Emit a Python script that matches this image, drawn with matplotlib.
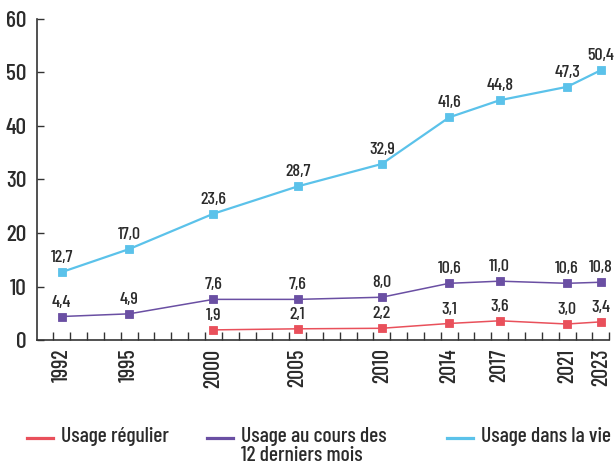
import numpy as np
import matplotlib
matplotlib.use("Agg")
import matplotlib.pyplot as plt
from matplotlib.lines import Line2D

plt.rcParams['font.family'] = ['Barlow Condensed', 'DejaVu Sans']
plt.rcParams['font.weight'] = 'medium'

years = [1992, 1995, 2000, 2005, 2010, 2014, 2017, 2021, 2023]
vie = [12.7, 17.0, 23.6, 28.7, 32.9, 41.6, 44.8, 47.3, 50.4]
annee = [4.4, 4.9, 7.6, 7.6, 8.0, 10.6, 11.0, 10.6, 10.8]
regulier_years = [2000, 2005, 2010, 2014, 2017, 2021, 2023]
regulier = [1.9, 2.1, 2.2, 3.1, 3.6, 3.0, 3.4]

labels = ["Usage régulier", "Usage au cours des\n12 derniers mois", "Usage dans la vie"]
colors = ["#e9505b", "#6a4fa3", "#5bc2ea"]
text_col = "#2b2b2b"


def xpos(ys):
    # the source chart draws 1992 one year to the left of its true place
    return [y - 1 if y == 1992 else y for y in ys]


fig = plt.figure(figsize=(6.16, 4.71), dpi=100)
ax = fig.add_axes([0.0593, 0.278, 0.9297, 0.682])

series = [(regulier_years, regulier, colors[0], 1.1),
          (years, annee, colors[1], 1.1),
          (years, vie, colors[2], 1.6)]
for ys, vals, c, lw in series:
    xs = xpos(ys)
    ax.plot(xs, vals, color=c, lw=lw, marker='s', ms=6, mec=c, mew=0.6, zorder=3)
    for x, v in zip(xs, vals):
        ax.annotate(f"{v:.1f}".replace('.', ','), (x, v), xytext=(0, 5),
                    textcoords='offset points', ha='center', va='bottom',
                    fontsize=13, color=text_col, annotation_clip=False)

ax.set_xlim(1989.5, 2023.5)
ax.set_ylim(0, 60)
ax.set_yticks(range(0, 61, 10))
ax.set_xticks(xpos(years))
ax.set_xticklabels([str(y) for y in years], rotation=90, va='top')
ax.set_xticks(np.arange(1990.5, 2023.6, 1.0), minor=True)
ax.tick_params(axis='x', which='major', length=0, labelsize=16,
               labelcolor=text_col, pad=6)
ax.tick_params(axis='x', which='minor', direction='in', length=6, width=1,
               color='#333333')
ax.tick_params(axis='y', direction='in', length=5, width=1, color='#333333',
               labelsize=17, labelcolor=text_col, pad=7)
for s in ['top', 'right']:
    ax.spines[s].set_visible(False)
for s in ['left', 'bottom']:
    ax.spines[s].set_color('#333333')
    ax.spines[s].set_linewidth(1.2)

# legend drawn by hand to keep the wrapped label top-aligned
leg_x = [27, 207, 447]
leg_y = 1 - 438 / 471
for x0, lab, c in zip(leg_x, labels, colors):
    fig.add_artist(Line2D([x0 / 616, (x0 + 26) / 616], [leg_y, leg_y], color=c,
                          lw=2.3, transform=fig.transFigure))
    fig.text((x0 + 34) / 616, leg_y + 0.024, lab, ha='left', va='top',
             fontsize=15.5, color=text_col, linespacing=1.05)

fig.savefig("out.png", dpi=100)
